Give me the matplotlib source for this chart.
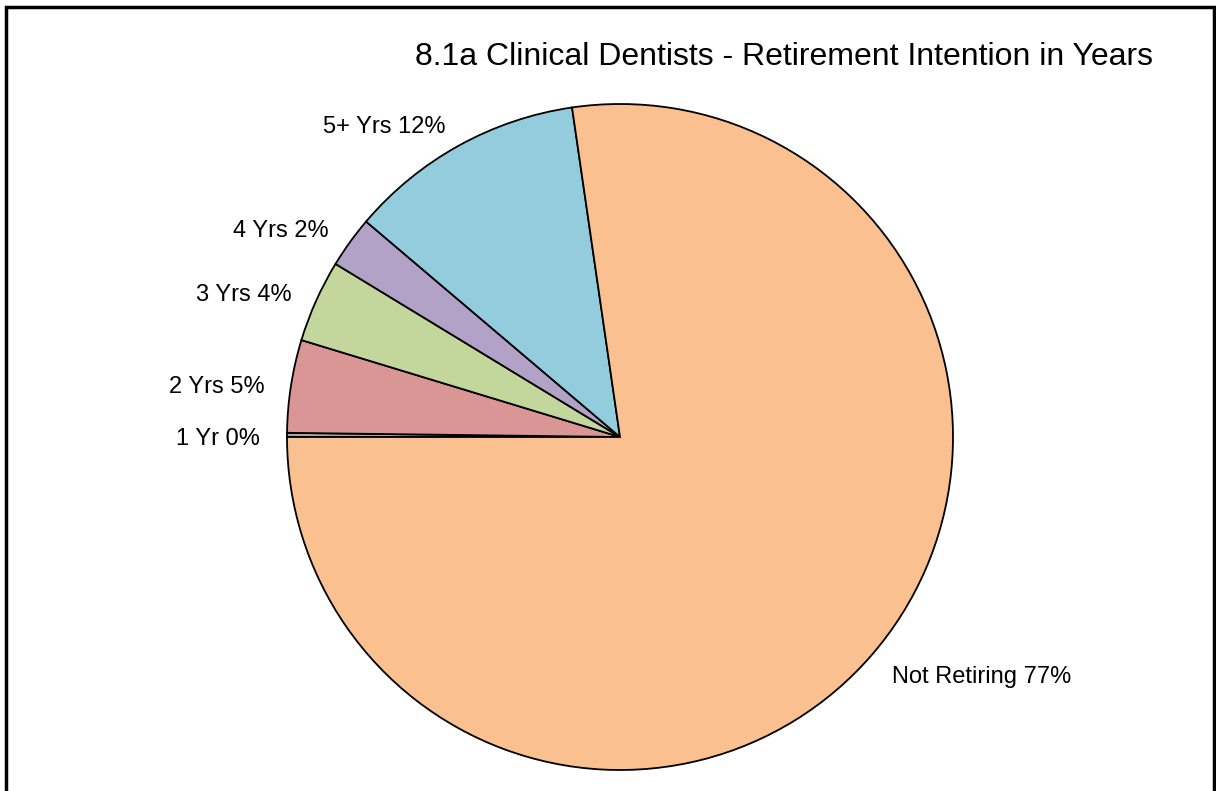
import matplotlib
matplotlib.use("Agg")
import matplotlib.pyplot as plt
from matplotlib.patches import Rectangle

plt.rcParams["font.family"] = ["Liberation Sans", "DejaVu Sans"]

# slice data, in drawing order (clockwise from 9 o'clock)
categories = ["1 Yr", "2 Yrs", "3 Yrs", "4 Yrs", "5+ Yrs", "Not Retiring"]
shares = [0.2, 4.5, 4.0, 2.5, 11.5, 77.3]
pct_labels = ["0%", "5%", "4%", "2%", "12%", "77%"]
colors = ["#A6A6A6", "#D99694", "#C3D69B", "#B2A2C7", "#93CDDD", "#FAC090"]

fig = plt.figure(figsize=(12.16, 7.91), dpi=100)

# outer chart frame
fig.patches.append(Rectangle((6 / 1216, -0.01), 1208 / 1216, 0.01 + 784 / 791,
                             transform=fig.transFigure, fill=False,
                             edgecolor="black", linewidth=2.5))

cx, cy, r = 620, 437, 333
ax = fig.add_axes([(cx - r) / 1216, (791 - cy - r) / 791, 2 * r / 1216, 2 * r / 791])
wedges, texts = ax.pie(shares, colors=colors, startangle=180, counterclock=False,
                       labels=[f"{c} {p}" for c, p in zip(categories, pct_labels)],
                       labeldistance=1.08,
                       wedgeprops=dict(edgecolor="black", linewidth=1.3),
                       textprops=dict(fontsize=17))
# nudge labels down a few pixels, as in the original
for t in texts:
    x, y = t.get_position()
    t.set_position((x, y - 0.014))
ax.set_xlim(-1, 1)
ax.set_ylim(-1, 1)
ax.set_aspect("auto")
ax.axis("off")

fig.text(1153 / 1216, 1 - 57 / 791, "8.1a Clinical Dentists - Retirement Intention in Years",
         fontsize=23, ha="right", va="center")

fig.savefig("out.png", dpi=100)
